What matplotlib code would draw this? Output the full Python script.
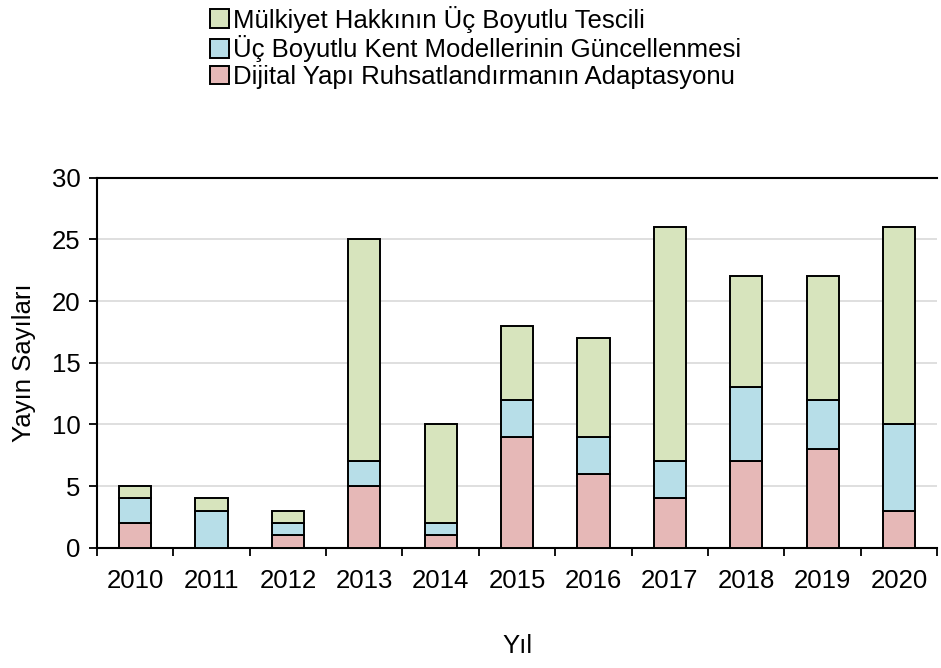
import numpy as np
import matplotlib
matplotlib.use("Agg")
import matplotlib.pyplot as plt

plt.rcParams["font.family"] = ["Liberation Sans", "DejaVu Sans"]

# ── Data ──────────────────────────────────────────────────────────────────────

years = ["2010", "2011", "2012", "2013", "2014", "2015",
         "2016", "2017", "2018", "2019", "2020"]
ruhsat = [2, 0, 1, 5, 1, 9, 6, 4, 7, 8, 3]
kent = [2, 3, 1, 2, 1, 3, 3, 3, 6, 4, 7]
tescil = [1, 1, 1, 18, 8, 6, 8, 19, 9, 10, 16]

labels = [
    "Dijital Yapı Ruhsatlandırmanın Adaptasyonu",
    "Üç Boyutlu Kent Modellerinin Güncellenmesi",
    "Mülkiyet Hakkının Üç Boyutlu Tescili",
]
colors = ["#E6B8B7", "#B7DEE8", "#D7E4BD"]

FS = 18.5

# ── Plot ─────────────────────────────────────────────────────────────────────

fig = plt.figure(figsize=(9.41, 6.68), dpi=100)
ax = fig.add_axes([0.103, 0.180, 0.893, 0.554])

x = np.arange(len(years))
bottom = np.zeros(len(years))
handles = []
for vals, lab, col in zip([ruhsat, kent, tescil], labels, colors):
    b = ax.bar(x, vals, width=0.42, bottom=bottom, color=col,
               edgecolor="black", linewidth=1.4, label=lab, zorder=3)
    handles.append(b)
    bottom += np.array(vals)

ax.set_xlim(-0.5, len(years) - 0.5)
ax.set_ylim(0, 30)
ax.set_yticks(range(0, 31, 5))
ax.set_xticks(x)
ax.set_xticklabels(years)
ax.set_xticks(np.arange(-0.5, len(years), 1.0), minor=True)
ax.tick_params(axis="x", which="major", length=0, labelsize=FS, pad=15)
ax.tick_params(axis="x", which="minor", length=6, width=1.3, direction="out")
ax.tick_params(axis="y", labelsize=FS, length=6, width=1.3, pad=6)

ax.grid(axis="y", color="#D9D9D9", linewidth=1.2, zorder=0)
ax.spines["right"].set_visible(False)
for s in ["left", "bottom", "top"]:
    ax.spines[s].set_linewidth(1.5)

ax.set_xlabel("Yıl", fontsize=FS, labelpad=30)
ax.set_ylabel("Yayın Sayıları", fontsize=FS, labelpad=11)

fig.legend(handles[::-1], labels[::-1], loc="upper center",
           bbox_to_anchor=(0.505, 1.026), frameon=False, fontsize=FS,
           handlelength=0.75, handleheight=0.75, handletextpad=0.15,
           labelspacing=0.1)

plt.savefig("out.png", dpi=100)
plt.close()
